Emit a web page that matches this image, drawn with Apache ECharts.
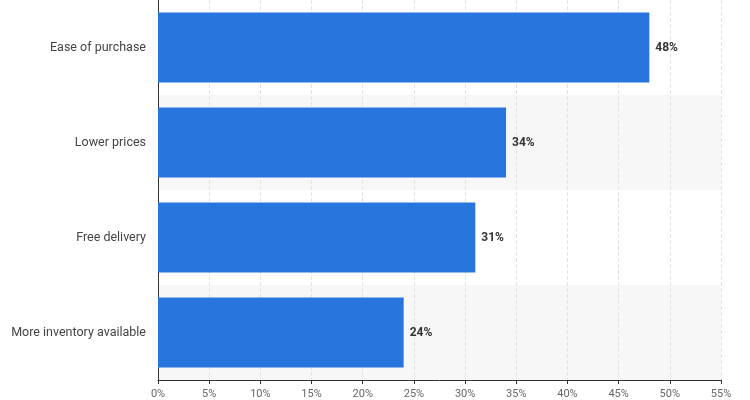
<!DOCTYPE html>
<html>
<head>
<meta charset="utf-8">
<script src="https://cdn.jsdelivr.net/npm/echarts@6/dist/echarts.min.js"></script>
<style>html,body{margin:0;padding:0;background:#fff}#chart{width:750px;height:400px}</style>
</head>
<body>
<div id="chart"></div>
<script>
// categories listed bottom to top
var categories = ['More inventory available', 'Free delivery', 'Lower prices', 'Ease of purchase'];
var shares = [24, 31, 34, 48];

var myChart = echarts.init(document.getElementById('chart'));
myChart.setOption({
	animation: false,
	grid: { left: 158, right: 29, bottom: 10, height: 412 },
	xAxis: {
		type: 'value', min: 0, max: 55, interval: 5,
		axisLabel: { formatter: '{value}%', color: '#666', fontSize: 11, fontFamily: 'Roboto', margin: 9 },
		splitLine: { show: true, lineStyle: { color: '#e3e3e3', type: 'dashed' } },
		axisLine: { show: true, lineStyle: { color: '#333' } },
		axisTick: { show: true, length: 4, lineStyle: { color: '#333' } }
	},
	yAxis: {
		type: 'category', data: categories,
		axisLabel: { color: '#444', fontSize: 12.5, fontFamily: 'Roboto', margin: 12 },
		axisLine: { show: true, lineStyle: { color: '#333' } },
		axisTick: { show: false },
		splitArea: { show: true, areaStyle: { color: ['#f7f7f7', '#ffffff'] } }
	},
	series: [{
		type: 'bar', data: shares, barWidth: 70,
		itemStyle: { color: '#2876dd' },
		label: { show: true, position: 'right', formatter: '{c}%', color: '#333', fontWeight: 'bold', fontSize: 12, fontFamily: 'Roboto', distance: 6 }
	}]
});
</script>
</body>
</html>
